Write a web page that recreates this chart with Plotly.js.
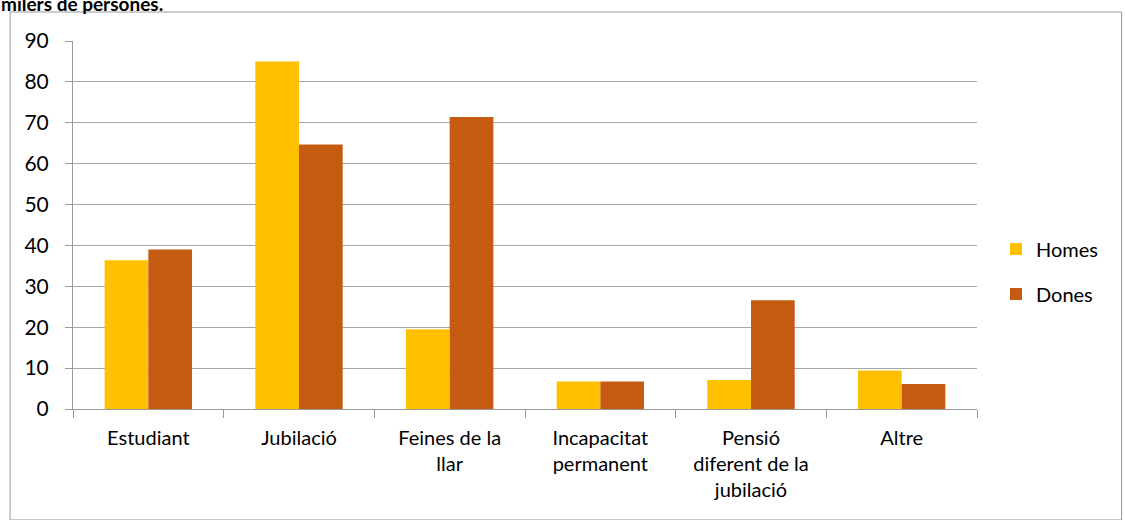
<!DOCTYPE html>
<html><head><meta charset="utf-8">
<script src="https://cdn.plot.ly/plotly-3.0.1.min.js"></script>
<style>html,body{margin:0;padding:0;background:#fff;}#chart{width:1125px;height:520px;}</style>
</head><body><div id="chart"></div>
<script>
const categories = ["Estudiant", "Jubilació", "Feines de la<br>llar", "Incapacitat<br>permanent", "Pensió<br>diferent de la<br>jubilació", "Altre"];
const homes = [36.4, 85.0, 19.5, 6.7, 7.1, 9.4];
const dones = [39.0, 64.7, 71.4, 6.7, 26.6, 6.1];
const seriesNames = ["Homes", "Dones"];
const yTicks = [0, 10, 20, 30, 40, 50, 60, 70, 80, 90];

const font = "Lato, 'Open Sans', sans-serif";
const traces = [
  {type: "bar", name: seriesNames[0], legendgroup: "a", x: categories, y: homes, marker: {color: "#FFC000"}},
  {type: "bar", name: seriesNames[1], legendgroup: "b", x: categories, y: dones, marker: {color: "#C55A11"}}
];
const layout = {
  width: 1125, height: 520,
  margin: {l: 73, r: 148, t: 41, b: 111},
  paper_bgcolor: "#fff", plot_bgcolor: "#fff",
  font: {family: font, color: "#000", size: 20},
  barmode: "group", bargap: 0.42, bargroupgap: 0,
  xaxis: {
    type: "category", tickson: "boundaries", ticks: "outside", ticklen: 8, tickcolor: "#999",
    showline: true, linecolor: "#999", linewidth: 1, showgrid: false,
    tickfont: {size: 20, family: font}, automargin: false, ticklabelstandoff: 11
  },
  yaxis: {
    range: [0, 90], tickvals: yTicks, ticks: "outside", ticklen: 7, tickcolor: "#999",
    showline: true, linecolor: "#999", showgrid: true, gridcolor: "#a6a6a6", gridwidth: 1,
    zeroline: false, tickfont: {size: 21, family: font}, automargin: false, ticklabelstandoff: 12
  },
  legend: {x: 1.021, y: 0.488, yanchor: "top", xanchor: "left", font: {size: 20}, traceorder: "grouped", tracegroupgap: 16, itemwidth: 30},
  showlegend: true,
  shapes: [{type: "rect", xref: "paper", yref: "paper", x0: -0.0696, x1: 1.16, y0: -0.3016, y1: 1.0788,
            line: {color: "#999", width: 1}, fillcolor: "rgba(0,0,0,0)"}],
  annotations: [{text: "<b>milers de persones.</b>", xref: "paper", yref: "paper", x: -0.082, y: 1.066, 
                 xanchor: "left", yanchor: "bottom", showarrow: false, font: {size: 19, family: font}}]
};
Plotly.newPlot("chart", traces, layout, {displayModeBar: false, staticPlot: true});
</script></body></html>
